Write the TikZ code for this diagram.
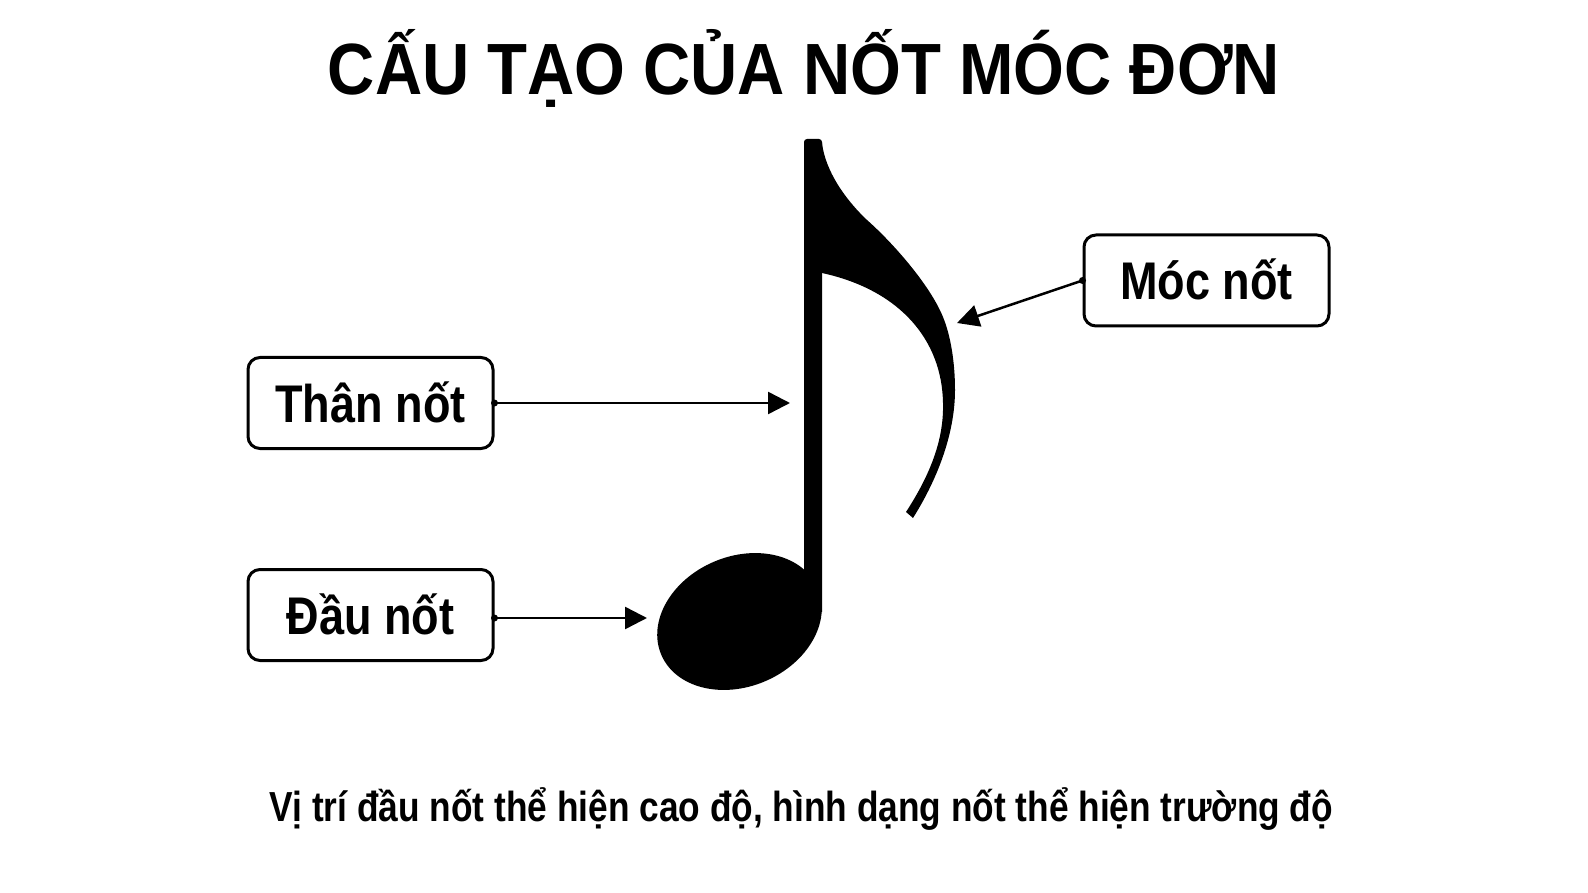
\documentclass[tikz,border=0pt]{standalone}
\usepackage{fontspec}
\setmainfont{Liberation Sans}
\newfontfamily\titlefont[FakeStretch=0.90]{Liberation Sans}
\newfontfamily\labelfont[FakeStretch=0.85]{Liberation Sans}
\newfontfamily\notefont[FakeStretch=0.84]{Liberation Sans}
\usetikzlibrary{arrows.meta}
\tikzset{
  labelbox/.style={draw, line width=3pt, rounded corners=12pt,
    minimum width=245pt, minimum height=91pt, inner sep=0pt,
    text height=38pt, text depth=0pt,
    font=\labelfont\bfseries\fontsize{53}{60}\selectfont},
  pointer/.style={line width=2.5pt, -{Triangle[length=22pt,width=22pt]}},
  startdot/.style={fill, radius=3.5pt},
  notepart/.style={fill=black},
}
\begin{document}
\begin{tikzpicture}[x=1pt,y=-1pt]
\useasboundingbox (0,0) rectangle (1588,893);
\fill[white] (0,0) rectangle (1588,893);

% title
\node[anchor=base, inner sep=0pt, font=\titlefont\bfseries\fontsize{72.6}{80}\selectfont] (title) at (804,95) {CẤU TẠO CỦA NỐT MÓC ĐƠN};

% note: head
\fill[notepart, rotate around={23:(739.5,621.5)}] (739.5,621.5) ellipse [x radius=85, y radius=65];
% stem
\fill[notepart] (804,612) [rounded corners=3pt] -- (804,139) -- (822,139) [sharp corners] -- (822,612) -- cycle;
% flag
\fill[notepart] (822,143) .. controls (826,175) and (850,204) .. (867,220)
  .. controls (893,243) and (930,285) .. (943,317)
  .. controls (950,334) and (955,360) .. (955,390)
  .. controls (955,430) and (940,475) .. (913,518)
  -- (906,512)
  .. controls (930,475) and (944,440) .. (943,403)
  .. controls (942,340) and (900,290) .. (822,273) -- cycle;

% targets
\coordinate (stemtarget) at (790,404);
\coordinate (headtarget) at (647,618);
\coordinate (flagtarget) at (957,323);

% label boxes
\node[labelbox] (than) at (370.5,403) {Thân nốt};
\node[labelbox] (dau) at (370.5,615) {Đầu nốt};
\node[labelbox] (moc) at (1206.5,280.5) {Móc nốt};
\coordinate (daustart) at ([yshift=-3pt]dau.east);

% connectors
\draw[pointer] (than.east) -- (than.east -| stemtarget);
\fill (than.east) circle[startdot];
\draw[pointer] (daustart) -- (daustart -| headtarget);
\fill (daustart) circle[startdot];
\draw[pointer] (moc.west) -- (flagtarget);
\fill (moc.west) circle[startdot];

% caption
\node[anchor=base, inner sep=0pt, font=\notefont\bfseries\fontsize{42}{48}\selectfont] (caption) at (801,821) {Vị trí đầu nốt thể hiện cao độ, hình dạng nốt thể hiện trường độ};
\end{tikzpicture}
\end{document}
